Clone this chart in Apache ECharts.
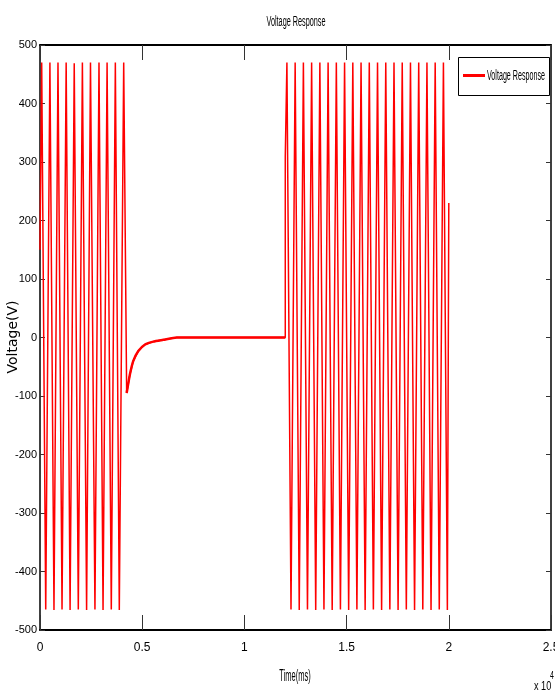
<!DOCTYPE html>
<html>
<head>
<meta charset="utf-8">
<script src="https://cdn.jsdelivr.net/npm/echarts@6/dist/echarts.min.js"></script>
<style>
html,body{margin:0;padding:0;background:#fff;}
#c{width:555px;height:693px;}
</style>
</head>
<body>
<div id="c"></div>
<script>
// ---- Data ----
const chartTitle = 'Voltage Response';
const seriesName = 'Voltage Response';
const xAxisTitle = 'Time(ms)';
const yAxisTitle = 'Voltage(V)';
const xTickValues = [0, 5000, 10000, 15000, 20000, 25000];
const xTickLabels = ['0', '0.5', '1', '1.5', '2', '2.5'];
const yTickValues = [-500, -400, -300, -200, -100, 0, 100, 200, 300, 400, 500];

// first oscillating part (peaks / troughs)
const time1 = [0, 83, 280, 485, 684, 880, 1078, 1280, 1472, 1675, 1874, 2074, 2280, 2470, 2688, 2886, 3084, 3282, 3488, 3686, 3880, 4095];
const volt1 = [150, 470, -465, 470, -466, 470, -465, 470, -466, 469, -465, 470, -466, 470, -465, 470, -466, 470, -465, 470, -466, 470];

// decay after the interruption, then flat zero
const time2 = [4240, 4400, 4565, 4810, 5140, 5545, 6030, 6690, 9000, 12000];
const volt2 = [-95, -63, -40, -23, -12, -7, -4, 0, 0, 0];

// second oscillating part (restart, peaks / troughs, end)
const time3 = [12000, 12080, 12280, 12483, 12683, 12886, 13086, 13289, 13489, 13692, 13892, 14095, 14295, 14498, 14698, 14901, 15101, 15304, 15504, 15707, 15907, 16110, 16310, 16513, 16713, 16916, 17116, 17319, 17519, 17722, 17922, 18125, 18325, 18528, 18728, 18931, 19131, 19334, 19534, 19737, 19930, 20000];
const volt3 = [310, 470, -465, 470, -466, 470, -465, 470, -466, 470, -465, 470, -466, 470, -465, 470, -466, 470, -465, 470, -466, 470, -465, 470, -466, 470, -465, 470, -466, 470, -465, 470, -466, 470, -465, 470, -466, 470, -465, 470, -466, 230];

// ---- Build series data ----
function pairs(t, v) { return t.map((x, i) => [x, v[i]]); }
const allData = pairs(time1, volt1).concat(pairs(time2, volt2), pairs(time3, volt3));
const calmData = pairs(time2, volt2);

const FONT = '"Liberation Sans", Arial, sans-serif';
const chart = echarts.init(document.getElementById('c'), null, {renderer: 'canvas'});

const xLabelMap = {};
xTickValues.forEach((v, i) => { xLabelMap[v] = xTickLabels[i]; });

chart.setOption({
  animation: false,
  backgroundColor: '#ffffff',
  grid: {left: 40, right: 4, top: 45, bottom: 63, containLabel: false, outerBoundsMode: 'none'},
  xAxis: [{
    type: 'value', min: 0, max: 25000, interval: 5000, position: 'bottom',
    axisLine: {show: true, onZero: false, lineStyle: {color: '#000', width: 2}},
    axisTick: {show: true, inside: true, length: 15, lineStyle: {color: '#333', width: 1}},
    axisLabel: {fontFamily: FONT, fontSize: 12, color: '#000', margin: 12,
      formatter: v => (xLabelMap[v] !== undefined ? xLabelMap[v] : '')},
    splitLine: {show: false}
  }, {
    type: 'value', min: 0, max: 25000, interval: 5000, position: 'top',
    axisLine: {show: true, onZero: false, lineStyle: {color: '#000', width: 2}},
    axisTick: {show: true, inside: true, length: 15, lineStyle: {color: '#333', width: 1}},
    axisLabel: {show: false}, splitLine: {show: false}
  }],
  yAxis: [{
    type: 'value', min: -500, max: 500, interval: 100, position: 'left',
    axisLine: {show: true, onZero: false, lineStyle: {color: '#000', width: 1.5}},
    axisTick: {show: true, inside: true, length: 5, lineStyle: {color: '#333', width: 1}},
    axisLabel: {fontFamily: FONT, fontSize: 11, color: '#000', margin: 3},
    splitLine: {show: false}
  }, {
    type: 'value', min: -500, max: 500, interval: 100, position: 'right',
    axisLine: {show: true, onZero: false, lineStyle: {color: '#000', width: 1.5}},
    axisTick: {show: true, inside: true, length: 5, lineStyle: {color: '#333', width: 1}},
    axisLabel: {show: false}, splitLine: {show: false}
  }],
  series: [{
    name: seriesName, type: 'line', data: allData,
    xAxisIndex: 0, yAxisIndex: 0,
    showSymbol: false, symbol: 'none',
    lineStyle: {color: '#ff0000', width: 1.5},
    itemStyle: {color: '#ff0000'}
  }, {
    name: seriesName, type: 'line', data: calmData,
    xAxisIndex: 0, yAxisIndex: 0,
    showSymbol: false, symbol: 'none', smooth: 0.2,
    lineStyle: {color: '#ff0000', width: 2.5},
    itemStyle: {color: '#ff0000'}
  }],
  graphic: [
    // title (condensed like the reference)
    {type: 'text', x: 296, y: 22, scaleX: 0.52,
     style: {text: chartTitle, font: '14px ' + FONT, fill: '#000', align: 'center', verticalAlign: 'middle'}},
    // x axis title
    {type: 'text', x: 295, y: 677, scaleX: 0.47,
     style: {text: xAxisTitle, font: '16px ' + FONT, fill: '#000', align: 'center', verticalAlign: 'middle'}},
    // y axis title
    {type: 'text', x: 13, y: 337, rotation: Math.PI / 2,
     style: {text: yAxisTitle, font: '14px "DejaVu Sans", sans-serif', fill: '#000', align: 'center', verticalAlign: 'middle'}},
    // exponent
    {type: 'text', x: 534, y: 686, scaleX: 0.7,
     style: {text: 'x 10', font: '13px ' + FONT, fill: '#000', align: 'left', verticalAlign: 'middle'}},
    {type: 'text', x: 550, y: 676, scaleX: 0.7,
     style: {text: '4', font: '10px ' + FONT, fill: '#000', align: 'left', verticalAlign: 'middle'}},
    // legend box
    {type: 'rect', shape: {x: 458.5, y: 57.5, width: 91, height: 38},
     style: {fill: '#fff', stroke: '#000', lineWidth: 1}, z: 10},
    {type: 'line', shape: {x1: 463, y1: 75.5, x2: 485, y2: 75.5},
     style: {stroke: '#ff0000', lineWidth: 3}, z: 11},
    {type: 'text', x: 487, y: 76, scaleX: 0.51, z: 11,
     style: {text: seriesName, font: '14px ' + FONT, fill: '#000', align: 'left', verticalAlign: 'middle'}}
  ]
});
</script>
</body>
</html>
